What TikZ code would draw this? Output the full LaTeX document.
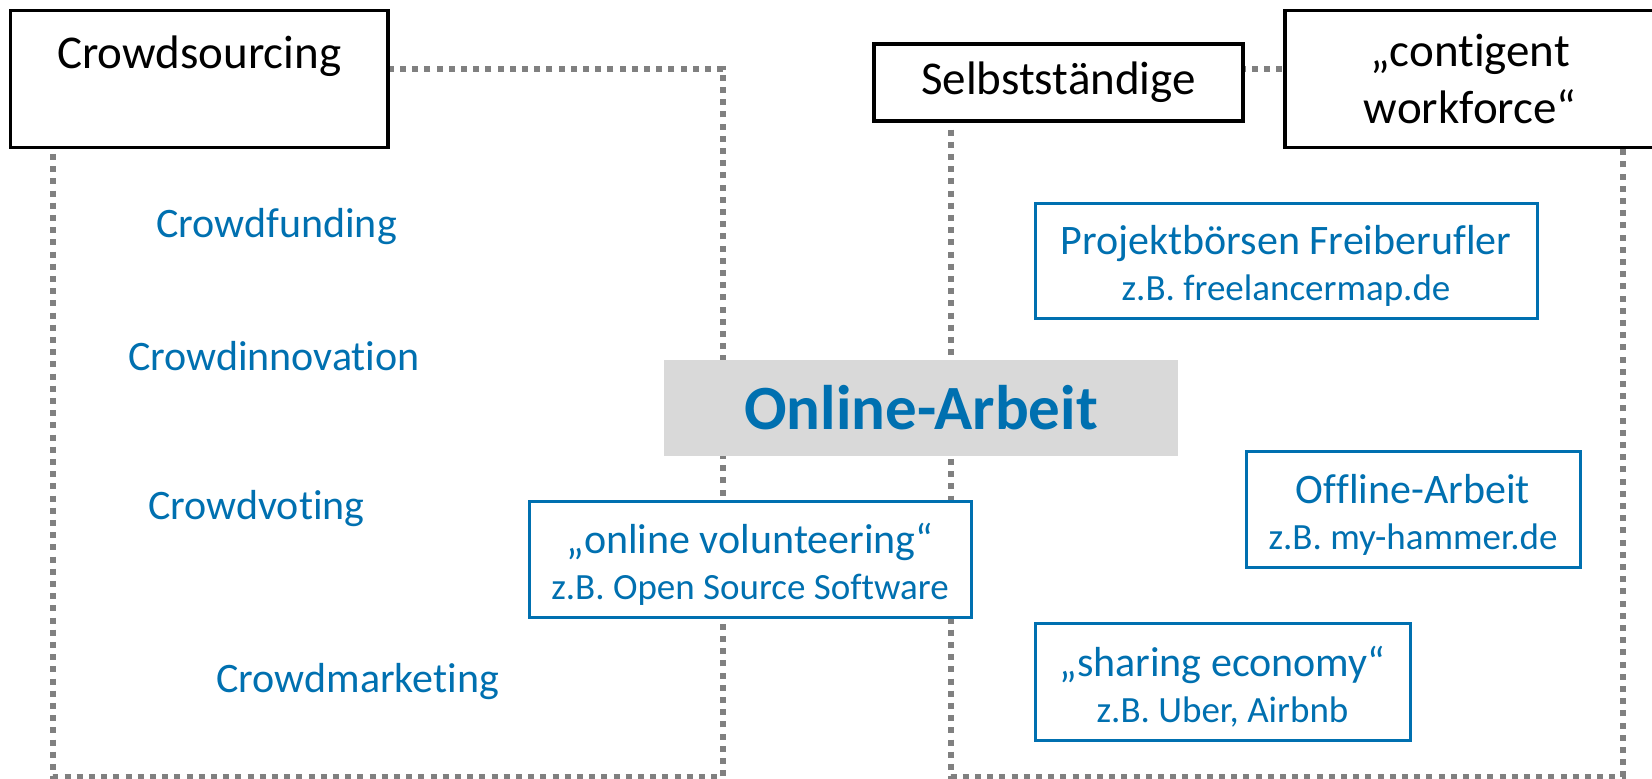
\documentclass[tikz,border=0pt]{standalone}
\usepackage{fontspec}
\setmainfont[Ligatures={NoCommon,NoRare,NoContextual}]{Carlito}
\definecolor{ablue}{HTML}{0070B0}
\definecolor{dotgray}{HTML}{808080}
\definecolor{boxgray}{HTML}{D9D9D9}
\newcommand{\firstline}{\fontsize{42}{46}\selectfont\rule{0pt}{40pt}}
\newcommand{\nl}{\kern0pt }
\begin{document}
\begin{tikzpicture}[x=1pt,y=-1pt,
  frame/.style={draw=dotgray, line width=6pt, dash pattern=on 6pt off 6.2pt},
  blackbox/.style={draw=black, line width=3.2pt, fill=white, inner sep=0pt,
    font=\fontsize{47}{57}\selectfont, align=center},
  bluebox/.style={draw=ablue, line width=3pt, fill=white, inner sep=0pt,
    text=ablue, align=center, font=\fontsize{37}{46}\selectfont},
  crowd/.style={text=ablue, font=\fontsize{42}{50}\selectfont, anchor=base, inner sep=0pt}]
\useasboundingbox (0,0) rectangle (1652,779);
\clip (0,0) rectangle (1652,779);
% frames
\coordinate (lf1) at (52.7,68.5);
\coordinate (lf2) at (723,776.5);
\coordinate (rf1) at (951,68.5);
\coordinate (rf2) at (1622.5,776.5);
\draw[frame] (lf1) rectangle (lf2);
\draw[frame] (rf1) rectangle (rf2);
% black boxes
\node[blackbox, minimum width=377.5pt, minimum height=137pt, text height=58pt, text depth=79pt]
  (cs) at (199.25,79) {Crowdsourcing};
\node[blackbox, minimum width=369pt, minimum height=77pt] (sel) at (1058.5,82.5) {Selbstständige};
\node[blackbox, minimum width=370pt, minimum height=137pt] (cw) at (1470,79) {„contigent\\workforce“};
% central
\node[fill=boxgray, minimum width=514pt, minimum height=96pt, inner sep=0pt, text=ablue,
  font=\fontsize{63}{70}\selectfont\bfseries] (oa) at (921,408) {Online-Arbeit};
% blue boxes
\node[bluebox, minimum width=442pt, minimum height=116pt] (vol) at (750,559)
  {{\firstline „online volunteering“}\\z.B. Open Source Sof\nl tware};
\node[bluebox, minimum width=502pt, minimum height=115pt] (proj) at (1286,260.5)
  {{\firstline Projektbörsen Freiberuf\nl ler}\\z.B. f\nl reelancermap.de};
\node[bluebox, minimum width=334pt, minimum height=116pt] (off) at (1413,509)
  {{\firstline Of\nl f\nl line-Arbeit}\\z.B. my-hammer.de};
\node[bluebox, minimum width=375pt, minimum height=117pt] (share) at (1222.5,681.5)
  {{\firstline „sharing economy“}\\z.B. Uber, Airbnb};
% crowd items
\node[crowd] (cf) at (276.6,237) {Crowdfunding};
\node[crowd] (ci) at (274,370) {Crowdinnovat\nl ion};
\node[crowd] (cv) at (256.5,519) {Crowdvoting};
\node[crowd] (cm) at (357.7,692) {Crowdmarket\nl ing};
\end{tikzpicture}
\end{document}
